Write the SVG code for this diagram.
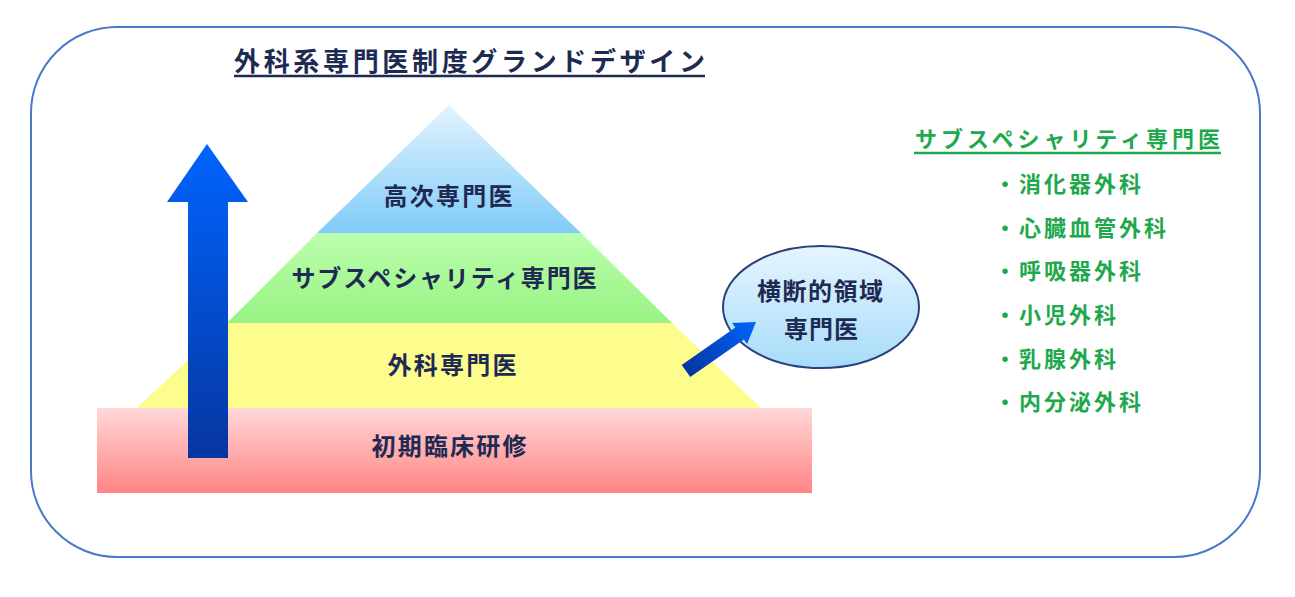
<svg xmlns="http://www.w3.org/2000/svg" width="1295" height="597" viewBox="0 0 1295 597">
<defs>
<style>
.jp{font-family:"Noto Sans CJK JP","Noto Sans CJK SC",sans-serif;font-weight:bold;}
.navy{fill:#1e2a52;}
.green{fill:#1fa84c;}
.mid{text-anchor:middle;}
</style>
<linearGradient id="gBlue" x1="0" y1="0" x2="0" y2="1"><stop offset="0" stop-color="#e3f3ff"/><stop offset="1" stop-color="#80ccf8"/></linearGradient>
<linearGradient id="gGreen" x1="0" y1="0" x2="0" y2="1"><stop offset="0" stop-color="#bbffae"/><stop offset="1" stop-color="#98f282"/></linearGradient>
<linearGradient id="gPink" x1="0" y1="0" x2="0" y2="1"><stop offset="0" stop-color="#ffd8d8"/><stop offset="1" stop-color="#ff8484"/></linearGradient>
<linearGradient id="gEll" x1="0" y1="0" x2="0" y2="1"><stop offset="0" stop-color="#e6f5ff"/><stop offset="1" stop-color="#a6dcf8"/></linearGradient>
<linearGradient id="gArrow" x1="0" y1="0" x2="0" y2="1"><stop offset="0" stop-color="#0064ff"/><stop offset="1" stop-color="#0636a0"/></linearGradient>
<linearGradient id="gSmall" gradientUnits="userSpaceOnUse" x1="686" y1="371" x2="756" y2="322"><stop offset="0" stop-color="#0636a0"/><stop offset="1" stop-color="#0064ff"/></linearGradient>
</defs>
<rect width="1295" height="597" fill="#ffffff"/>
<rect id="frame" x="31" y="27" width="1229" height="530" rx="86" ry="86" fill="none" stroke="#4c78c8" stroke-width="2"/>

<g id="title">
<text class="jp navy" x="234" y="71" font-size="26" textLength="471" lengthAdjust="spacing">外科系専門医制度グランドデザイン</text>
<line x1="234" y1="76" x2="705" y2="76" stroke="#1e2a52" stroke-width="2.5"/>
</g>

<g id="layer-pink">
<rect x="97" y="408" width="715" height="85" fill="url(#gPink)"/>
<text class="jp navy mid" x="449" y="455" font-size="24" textLength="155" lengthAdjust="spacing">初期臨床研修</text>
</g>
<g id="layer-yellow">
<polygon points="137,408 761,408 672,323 227,323" fill="#fdfd8e"/>
<text class="jp navy mid" x="452" y="374" font-size="24" textLength="129" lengthAdjust="spacing">外科専門医</text>
</g>
<g id="layer-green">
<polygon points="227,323 672,323 581,233 317,233" fill="url(#gGreen)"/>
<text class="jp navy mid" x="444" y="287" font-size="24" textLength="305" lengthAdjust="spacing">サブスペシャリティ専門医</text>
</g>
<g id="layer-blue">
<polygon points="317,233 581,233 449,105" fill="url(#gBlue)"/>
<text class="jp navy mid" x="448" y="205" font-size="24" textLength="129" lengthAdjust="spacing">高次専門医</text>
</g>

<g id="arrow-up">
<polygon points="207,144 248,202 228,202 228,458 188,458 188,202 167,202" fill="url(#gArrow)"/>
</g>

<g id="cross-field">
<ellipse cx="821" cy="307" rx="98" ry="61" fill="url(#gEll)" stroke="#2c3f7c" stroke-width="2"/>
<text class="jp navy mid" x="820" y="300" font-size="24" textLength="126" lengthAdjust="spacing">横断的領域</text>
<text class="jp navy mid" x="821" y="338" font-size="24" textLength="74" lengthAdjust="spacing">専門医</text>
</g>

<g id="connectors">
<polygon points="690.3,377.1 743.9,339.6 747.1,344.1 756,322 732.1,322.9 735.3,327.4 681.7,364.9" fill="url(#gSmall)"/>
</g>

<g id="subspecialty">
<text class="jp green" x="915" y="147" font-size="22" textLength="305" lengthAdjust="spacing">サブスペシャリティ専門医</text>
<line x1="914" y1="153" x2="1221" y2="153" stroke="#1fa84c" stroke-width="2.5"/>
<text class="jp green" x="994" y="192" font-size="22" letter-spacing="3">・消化器外科</text>
<text class="jp green" x="994" y="236" font-size="22" letter-spacing="3">・心臓血管外科</text>
<text class="jp green" x="994" y="279" font-size="22" letter-spacing="3">・呼吸器外科</text>
<text class="jp green" x="994" y="323" font-size="22" letter-spacing="3">・小児外科</text>
<text class="jp green" x="994" y="367" font-size="22" letter-spacing="3">・乳腺外科</text>
<text class="jp green" x="994" y="410" font-size="22" letter-spacing="3">・内分泌外科</text>
</g>
</svg>
